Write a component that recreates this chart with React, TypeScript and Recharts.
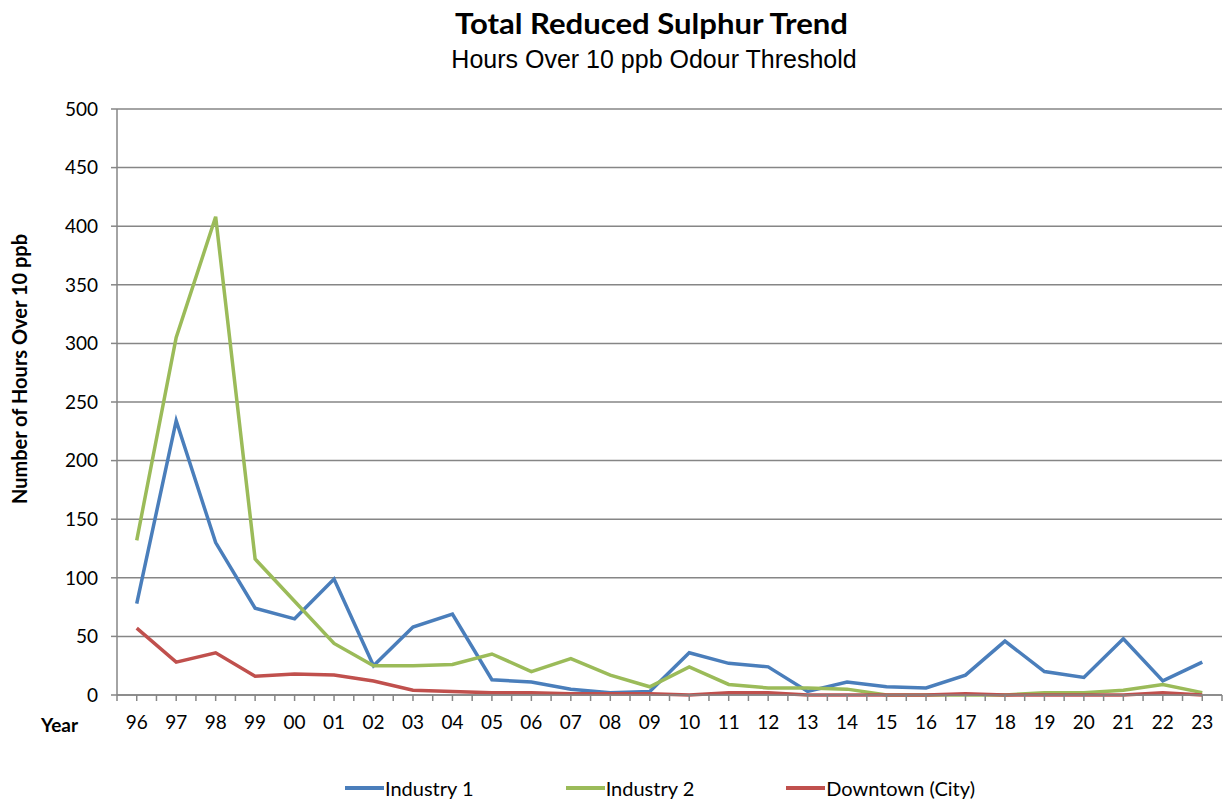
import React from "react";
import { LineChart, Line, XAxis, YAxis, CartesianGrid } from "recharts";

const years = ["96", "97", "98", "99", "00", "01", "02", "03", "04", "05", "06", "07", "08", "09", "10", "11", "12", "13", "14", "15", "16", "17", "18", "19", "20", "21", "22", "23"];
const industry1 = [78, 234, 130, 74, 65, 99, 25, 58, 69, 13, 11, 5, 2, 3, 36, 27, 24, 3, 11, 7, 6, 17, 46, 20, 15, 48, 12, 28];
const industry2 = [132, 305, 408, 116, 80, 44, 25, 25, 26, 35, 20, 31, 17, 7, 24, 9, 6, 6, 5, 0, 0, 0, 0, 2, 2, 4, 9, 2];
const downtown = [57, 28, 36, 16, 18, 17, 12, 4, 3, 2, 2, 1, 1, 1, 0, 2, 2, 0, 0, 0, 0, 1, 0, 0, 0, 0, 2, 0];
const yTicks = [0, 50, 100, 150, 200, 250, 300, 350, 400, 450, 500];

const series = [
  { key: "ind1", name: "Industry 1", color: "#4A7EBB" },
  { key: "ind2", name: "Industry 2", color: "#9BBB59" },
  { key: "city", name: "Downtown (City)", color: "#C0504D" },
];

const rows = years.map((y, i) => ({ i, year: y, ind1: industry1[i], ind2: industry2[i], city: downtown[i] }));

// ticks at every category and halfway between them, labels only on the categories
const xTicks = years.flatMap((_, i) => [i - 0.5, i]).concat(years.length - 0.5);

const FONT = "Lato, 'Open Sans', sans-serif";
const GRID = "#868686";

export default function App() {
  return (
    <div style={{ position: "absolute", left: 0, top: 0, width: 1224, height: 803, background: "#fff", fontFamily: FONT, overflow: "hidden" }}>
      <div style={{ position: "absolute", left: 0, width: 1303, top: 6, textAlign: "center", fontWeight: 700, fontSize: 28, color: "#000", transform: "scaleX(1.11)" }}>
        Total Reduced Sulphur Trend
      </div>
      <div style={{ position: "absolute", left: 0, width: 1308, top: 45, textAlign: "center", fontSize: 25, fontFamily: "'Liberation Sans', Arial, sans-serif", color: "#000" }}>
        Hours Over 10 ppb Odour Threshold
      </div>
      <div style={{ position: "absolute", left: 19, top: 369, transform: "translate(-50%, -50%) rotate(-90deg)", whiteSpace: "nowrap", fontWeight: 700, fontSize: 20 }}>
        Number of Hours Over 10 ppb
      </div>
      <div style={{ position: "absolute", left: 41, top: 713, fontWeight: 700, fontSize: 19 }}>Year</div>

      <LineChart width={1224} height={803} data={rows} margin={{ top: 109, right: 2, left: 0, bottom: 78 }}>
        <CartesianGrid vertical={false} stroke={GRID} strokeWidth={1.5} />
        <XAxis
          type="number"
          dataKey="i"
          domain={[-0.5, years.length - 0.5]}
          ticks={xTicks}
          interval={0}
          height={30}
          tickSize={6}
          tickMargin={15}
          axisLine={{ stroke: GRID, strokeWidth: 1.5 }}
          tickLine={{ stroke: GRID, strokeWidth: 1.5 }}
          tick={{ fill: "#000", fontSize: 19, fontFamily: FONT }}
          tickFormatter={(v: number) => (Number.isInteger(v) ? years[v] : "")}
        />
        <YAxis
          domain={[0, 500]}
          ticks={yTicks}
          width={117}
          tickSize={6}
          tickMargin={13}
          axisLine={{ stroke: GRID, strokeWidth: 1.5 }}
          tickLine={{ stroke: GRID, strokeWidth: 1.5 }}
          tick={{ fill: "#000", fontSize: 19, fontFamily: FONT }}
        />
        {series.map(s => (
          <Line key={s.key} type="linear" dataKey={s.key} name={s.name} stroke={s.color} strokeWidth={3.5} dot={false} isAnimationActive={false} />
        ))}
      </LineChart>

      <div style={{ position: "absolute", top: 776, left: 345, display: "flex", fontSize: 20, lineHeight: "24px" }}>
        {series.map((s, idx) => (
          <div key={s.key} style={{ display: "flex", alignItems: "center", marginLeft: idx === 0 ? 0 : 92 }}>
            <div style={{ width: 39, height: 4, background: s.color }} />
            <span style={{ marginLeft: 1 }}>{s.name}</span>
          </div>
        ))}
      </div>
    </div>
  );
}
